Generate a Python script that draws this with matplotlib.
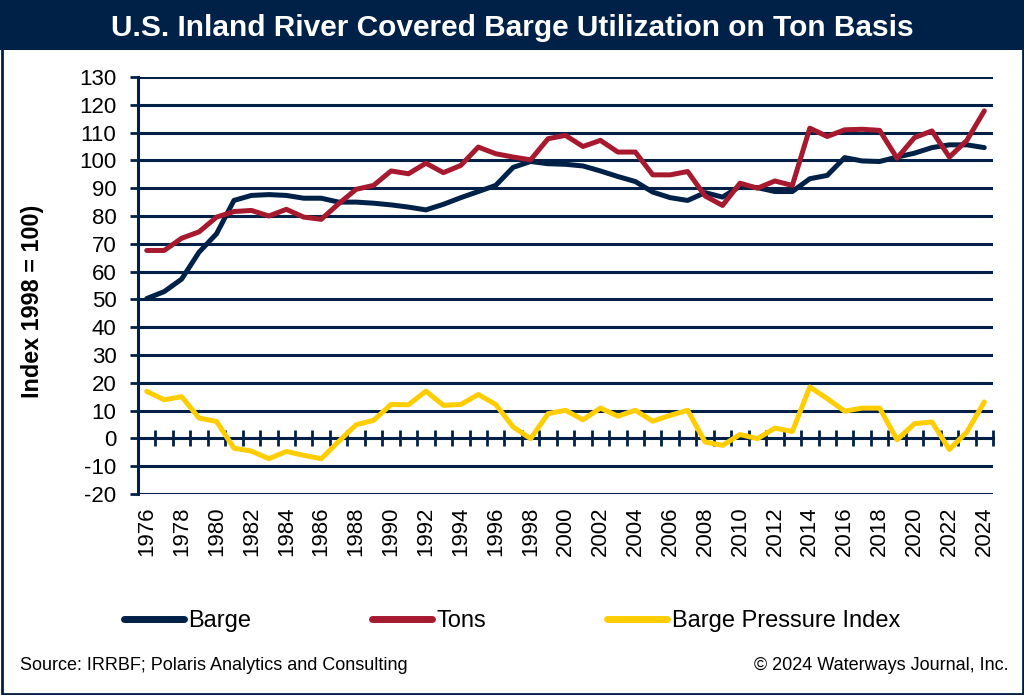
import matplotlib
matplotlib.use("Agg")
import matplotlib.pyplot as plt
from matplotlib.patches import Rectangle
import numpy as np

years = list(range(1976, 2025))
barge = [50.3, 52.8, 57.3, 67.0, 73.6, 85.6, 87.4, 87.7, 87.4, 86.4,
         86.4, 85.0, 85.0, 84.6, 84.0, 83.2, 82.2, 84.2, 86.6, 88.8,
         91.0, 97.5, 99.6, 98.8, 98.6, 98.0, 96.2, 94.2, 92.4, 88.6,
         86.6, 85.6, 88.4, 86.8, 90.7, 90.2, 88.8, 88.8, 93.4, 94.6,
         101.0, 99.8, 99.6, 101.2, 102.6, 104.6, 105.6, 105.6, 104.6]
tons = [67.6, 67.6, 72.0, 74.3, 79.6, 81.6, 82.0, 80.0, 82.4, 79.6,
        78.8, 84.4, 89.6, 91.0, 96.2, 95.2, 99.0, 95.6, 98.2, 104.8,
        102.4, 101.2, 100.2, 107.8, 109.0, 105.0, 107.2, 103.0, 103.0, 94.8,
        94.8, 96.0, 87.2, 83.8, 91.8, 90.0, 92.6, 91.0, 111.6, 108.6,
        111.0, 111.2, 110.8, 100.8, 108.2, 110.6, 101.2, 107.2, 117.8]
bpi = [16.9, 13.9, 15.0, 7.3, 6.1, -3.5, -4.6, -7.3, -4.7, -6.1,
       -7.3, -1.1, 4.9, 6.5, 12.2, 12.1, 17.0, 11.9, 12.2, 15.8,
       12.2, 4.1, -0.1, 8.9, 10.1, 6.7, 10.9, 8.0, 10.1, 6.2,
       8.3, 10.1, -1.3, -2.5, 1.4, -0.1, 3.7, 2.5, 18.5, 14.3,
       9.8, 10.9, 10.9, -0.5, 5.3, 5.9, -4.0, 2.3, 13.1]
series_names = ["Barge", "Tons", "Barge Pressure Index"]
ytick_vals = list(range(-20, 131, 10))
xlabel_years = list(range(1976, 2025, 2))

NAVY = "#002147"
RED = "#A6192E"
YELLOW = "#FFCD00"

plt.rcParams['font.family'] = ['Liberation Sans', 'DejaVu Sans']

fig = plt.figure(figsize=(10.24, 6.95), dpi=100)
W, H = 1024, 695

# Title bar and border
fig.patches.append(Rectangle((0, 1 - 50 / H), 1, 50 / H, transform=fig.transFigure,
                             facecolor=NAVY, edgecolor='none', zorder=0))
fig.patches.append(Rectangle((1.5 / W, 1.5 / H), 1 - 3 / W, 1 - 3 / H, transform=fig.transFigure,
                             facecolor='none', edgecolor=NAVY, linewidth=2, zorder=5))
fig.text(0.5, 1 - 28 / H, "U.S. Inland River Covered Barge Utilization on Ton Basis",
         ha='center', va='center', color='white', fontsize=21.5, fontweight='bold')

left, right, top, bottom = 138 / W, 993 / W, 77 / H, 494 / H
ax = fig.add_axes([left, 1 - bottom, right - left, bottom - top])

ax.set_ylim(-20, 130)
ax.set_xlim(years[0] - 0.5, years[-1] + 0.5)
ax.set_yticks(ytick_vals)
ax.set_yticklabels([str(v) for v in ytick_vals], fontsize=16)
ax.tick_params(axis='y', direction='out', length=5.5, width=2, color=NAVY, pad=10)

for v in ytick_vals:
    if v != 0:
        ax.axhline(v, color=NAVY, linewidth=2.2, zorder=1)

for s in ['top', 'right']:
    ax.spines[s].set_visible(False)
ax.spines['left'].set_color(NAVY)
ax.spines['left'].set_linewidth(2.2)
ax.spines['bottom'].set_position(('data', 0))
ax.spines['bottom'].set_color(NAVY)
ax.spines['bottom'].set_linewidth(2.2)

bounds = np.arange(years[0] - 0.5, years[-1] + 1.0, 1.0)
ax.set_xticks(bounds)
ax.set_xticklabels([])
ax.tick_params(axis='x', direction='inout', length=11, width=2, color=NAVY)

sec = ax.secondary_xaxis('bottom')
sec.set_xticks(xlabel_years)
sec.set_xticklabels([str(y) for y in xlabel_years], rotation=90, fontsize=16)
sec.tick_params(length=0, pad=9)
sec.spines['bottom'].set_visible(False)

lw = 3.6
l1, = ax.plot(years, barge, color=NAVY, linewidth=lw, label=series_names[0], zorder=3,
              solid_joinstyle='round', solid_capstyle='round')
l2, = ax.plot(years, tons, color=RED, linewidth=lw, label=series_names[1], zorder=4,
              solid_joinstyle='round', solid_capstyle='round')
l3, = ax.plot(years, bpi, color=YELLOW, linewidth=lw, label=series_names[2], zorder=4,
              solid_joinstyle='round', solid_capstyle='round')

fig.text(33 / W, 1 - 301 / H, "Index 1998 = 100)", rotation=90, ha='center', va='center',
         fontsize=16.8, fontweight='bold')

leg = fig.legend(handles=[l1, l2, l3], loc='center', bbox_to_anchor=(0.5, 1 - 621 / H),
                 ncol=3, frameon=False, fontsize=17, handlelength=2.55, handletextpad=0.2,
                 columnspacing=5.1)
for h in leg.legend_handles:
    h.set_linewidth(5)
    h.set_solid_capstyle('round')

fig.text(20 / W, 1 - 665 / H, "Source: IRRBF; Polaris Analytics and Consulting",
         ha='left', va='center', fontsize=13)
fig.text(1008 / W, 1 - 665 / H, "\u00a9 2024 Waterways Journal, Inc.",
         ha='right', va='center', fontsize=13)

fig.savefig("out.png", dpi=100)
